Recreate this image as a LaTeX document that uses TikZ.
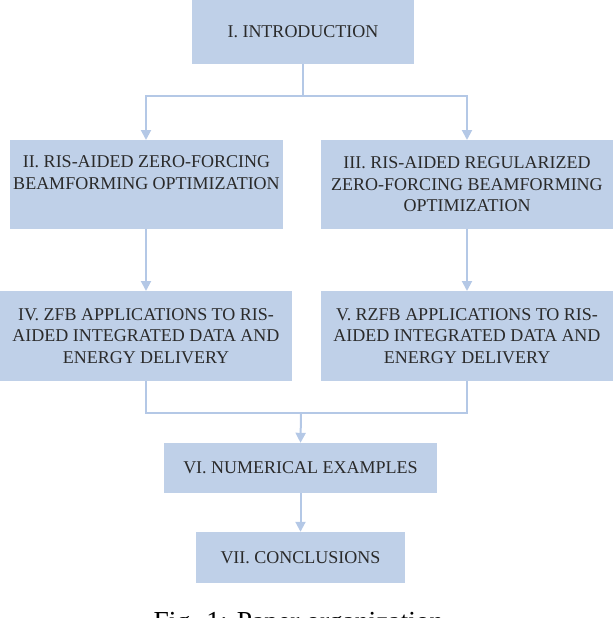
\documentclass[tikz,border=0pt]{standalone}
\usepackage{fontspec}
\setmainfont{Liberation Serif}
\usetikzlibrary{arrows.meta}
\definecolor{boxfill}{HTML}{BFD0E8}
\definecolor{linecol}{HTML}{B4C8E6}
\definecolor{txt}{HTML}{2A2A2A}
\begin{document}
\begin{tikzpicture}[x=1pt,y=-1pt,
  secbox/.style={fill=boxfill, draw=none, inner sep=0pt, align=center, text=txt,
    font=\fontsize{18}{21.5}\selectfont},
  conn/.style={draw=linecol, line width=2pt},
  arr/.style={conn, -{Triangle[width=10pt,length=10pt]}}]
\useasboundingbox (0,0) rectangle (614,618);
\node[secbox, minimum width=222pt, minimum height=64pt] (I) at (303,32) {I. INTRODUCTION};
\node[secbox, minimum width=273pt, minimum height=89pt] (II) at (146.5,184.5) {II. RIS-AIDED ZERO-FORCING\\BEAMFORMING OPTIMIZATION\\[2pt]};
\node[secbox, minimum width=292pt, minimum height=89pt] (III) at (467,184.5) {III. RIS-AIDED REGULARIZED\\ZERO-FORCING BEAMFORMING\\OPTIMIZATION};
\node[secbox, minimum width=292pt, minimum height=90pt] (IV) at (146,336) {IV. ZFB APPLICATIONS TO RIS-\\AIDED INTEGRATED DATA AND\\ENERGY DELIVERY};
\node[secbox, minimum width=292pt, minimum height=90pt] (V) at (467,336) {V. RZFB APPLICATIONS TO RIS-\\AIDED INTEGRATED DATA AND\\ENERGY DELIVERY};
\node[secbox, minimum width=273pt, minimum height=50pt] (VI) at (300.5,468) {VI. NUMERICAL EXAMPLES};
\node[secbox, minimum width=209pt, minimum height=51pt] (VII) at (300.5,557.5) {VII. CONCLUSIONS};
\node[anchor=base, text=black, font=\fontsize{27.5}{30}\selectfont, inner sep=0pt] (cap) at (302,630) {Fig. 1: Paper organization.};
\coordinate (j1) at (303,96);
\coordinate (j2) at (301,413);
\draw[conn] (I.south) -- (j1);
\draw[arr] (j1) -| (146,140);
\draw[arr] (j1) -| (467,140);
\draw[arr] (146,229) -- (146,291);
\draw[arr] (467,229) -- (467,291);
\draw[conn] (146,381) |- (j2) -| (467,381);
\draw[arr] (j2) -- (VI.north);
\draw[arr] (VI.south) -- (VII.north);
\end{tikzpicture}
\end{document}
